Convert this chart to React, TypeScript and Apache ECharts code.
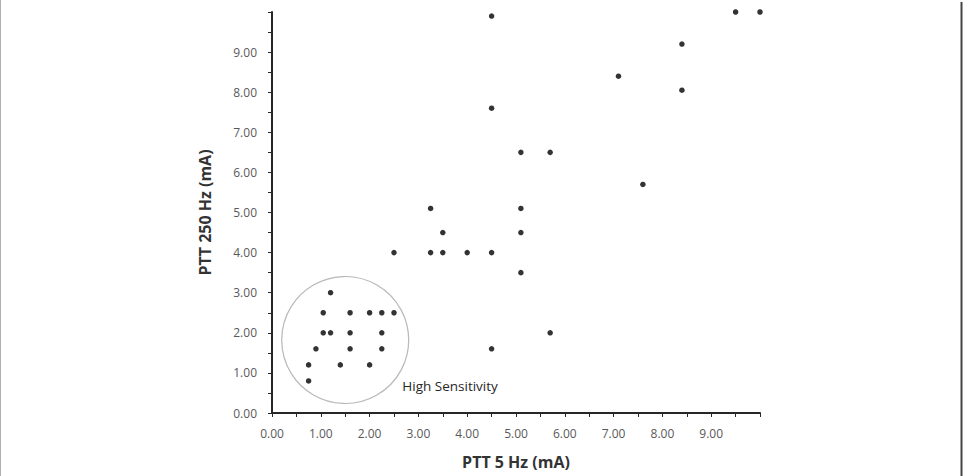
import React, { useEffect, useRef } from "react";
import * as echarts from "echarts";

const xTitle = "PTT 5 Hz (mA)";
const yTitle = "PTT 250 Hz (mA)";
const annotation = "High Sensitivity";

// PTT 5 Hz values
const ptt5: number[] = [
  4.5, 9.5, 10, 8.4, 7.1, 8.4, 4.5, 5.1, 5.7, 7.6, 5.1, 3.25, 5.1, 3.5,
  2.5, 3.25, 3.5, 4.0, 4.5, 5.1, 5.7, 4.5,
  1.2, 1.05, 1.6, 2.0, 2.25, 2.5, 1.05, 1.2, 1.6, 2.25, 0.9, 1.6, 2.25,
  0.75, 1.4, 2.0, 0.75,
];
// PTT 250 Hz values
const ptt250: number[] = [
  9.9, 10, 10, 9.2, 8.4, 8.05, 7.6, 6.5, 6.5, 5.7, 5.1, 5.1, 4.5, 4.5,
  4.0, 4.0, 4.0, 4.0, 4.0, 3.5, 2.0, 1.6,
  3.0, 2.5, 2.5, 2.5, 2.5, 2.5, 2.0, 2.0, 2.0, 2.0, 1.6, 1.6, 1.6,
  1.2, 1.2, 1.2, 0.8,
];

// High-sensitivity region circle centre (data units)
const circleCenter: number[] = [1.5, 1.82];
const annotationAnchor: number[] = [2.67, 0.68];

export default function App() {
  const ref = useRef<HTMLDivElement>(null);
  useEffect(() => {
    if (!ref.current) return;
    const chart = echarts.init(ref.current, null, { renderer: "svg" });
    const points = ptt5.map((x, i) => [x, ptt250[i]]);
    const axisColor = "#262626";
    const labelStyle = {
      color: "#595959",
      fontFamily: "Open Sans",
      fontSize: 12,
    };
    const fmt = (v: number) => (v >= 10 ? "" : v.toFixed(2));
    chart.setOption({
      animation: false,
      backgroundColor: "#fff",
      grid: { left: 272, right: 205, top: 12, bottom: 63 },
      xAxis: {
        type: "value",
        min: 0,
        max: 10,
        interval: 1,
        name: xTitle,
        nameLocation: "middle",
        nameGap: 41,
        nameTextStyle: {
          color: "#333",
          fontFamily: "Open Sans",
          fontWeight: "bold",
          fontSize: 16,
        },
        axisLine: { show: true, lineStyle: { color: axisColor, width: 2 } },
        axisTick: { show: true, length: 4, lineStyle: { color: axisColor } },
        minorTick: { show: true, splitNumber: 2, length: 4, lineStyle: { color: axisColor } },
        splitLine: { show: false },
        axisLabel: { ...labelStyle, margin: 14, formatter: fmt, showMaxLabel: true },
      },
      yAxis: {
        type: "value",
        min: 0,
        max: 10,
        interval: 1,
        name: yTitle,
        nameLocation: "middle",
        nameGap: 59,
        nameRotate: 90,
        nameTextStyle: {
          color: "#333",
          fontFamily: "Open Sans",
          fontWeight: "bold",
          fontSize: 16,
        },
        axisLine: { show: true, lineStyle: { color: axisColor, width: 2 } },
        axisTick: { show: true, length: 4, lineStyle: { color: axisColor } },
        minorTick: { show: true, splitNumber: 2, length: 4, lineStyle: { color: axisColor } },
        splitLine: { show: false },
        axisLabel: { ...labelStyle, margin: 15, formatter: fmt },
      },
      series: [
        {
          type: "scatter",
          data: [circleCenter],
          symbol: "circle",
          symbolSize: 127,
          silent: true,
          itemStyle: { color: "rgba(0,0,0,0)", borderColor: "#a6a6a6", borderWidth: 1.2 },
          z: 1,
        },
        {
          type: "scatter",
          data: points,
          symbol: "circle",
          symbolSize: 5.5,
          itemStyle: { color: "#000" },
          z: 3,
        },
      ],
    });
    const p = chart.convertToPixel({ gridIndex: 0 }, annotationAnchor) as number[];
    chart.setOption({
      graphic: [
        {
          type: "text",
          x: p[0],
          y: p[1],
          style: {
            text: annotation,
            fill: "#262626",
            font: "13.5px 'Open Sans'",
            verticalAlign: "middle",
            align: "left",
          },
        },
        {
          type: "line",
          shape: { x1: 0.5, y1: 0, x2: 0.5, y2: 476 },
          style: { stroke: "#b0b0b0", lineWidth: 1 },
        },
        {
          type: "line",
          shape: { x1: 961.5, y1: 2, x2: 961.5, y2: 476 },
          style: { stroke: "#444", lineWidth: 2 },
        },
      ],
    });
    return () => chart.dispose();
  }, []);
  return (
    <div
      ref={ref}
      style={{ position: "fixed", left: 0, top: 0, width: 965, height: 476 }}
    />
  );
}
